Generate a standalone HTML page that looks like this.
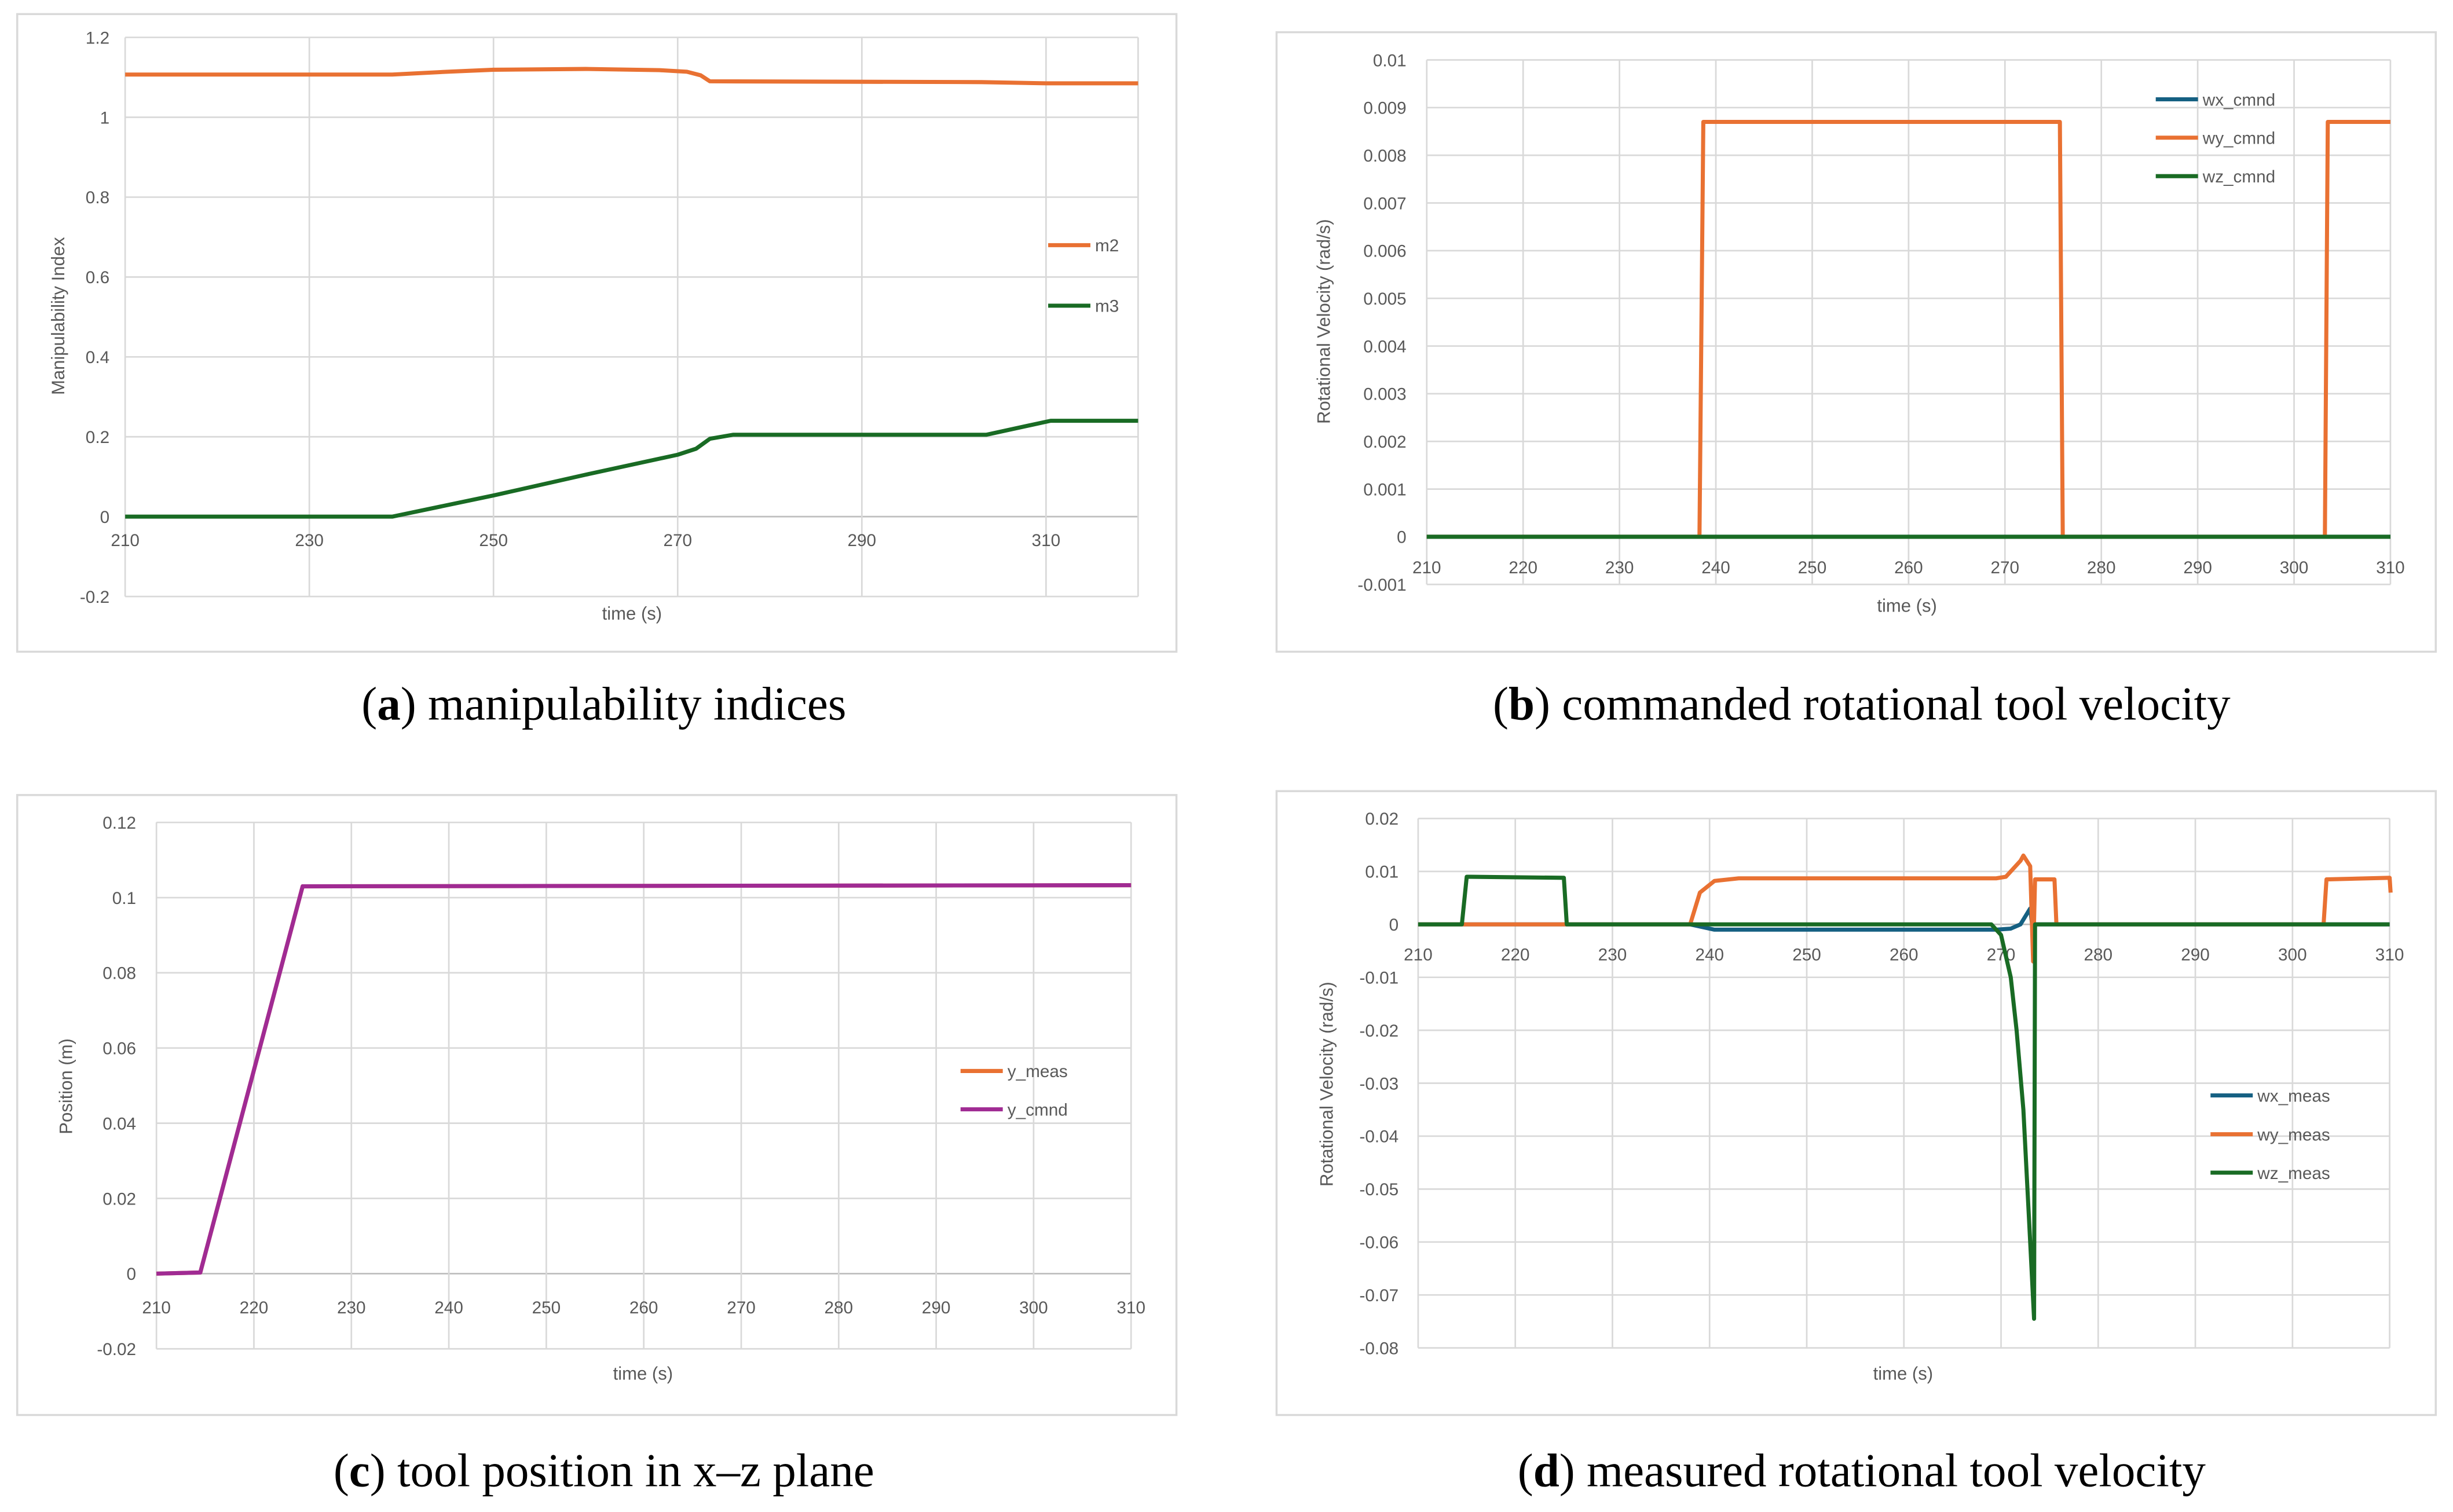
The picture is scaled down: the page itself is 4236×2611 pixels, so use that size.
<!DOCTYPE html>
<html><head><meta charset="utf-8"><style>
html,body{margin:0;padding:0;background:#fff;}
svg{display:block;}
text{font-family:"Liberation Sans",sans-serif;}
.tick{font-size:11px;fill:#595959;}
.ttl{font-size:11.5px;fill:#595959;}
.cap{font-family:"Liberation Serif",serif;font-size:30px;fill:#000;}
</style></head><body>
<svg id="fig" width="4236" height="2611" viewBox="0 0 1568 966.5" preserveAspectRatio="none" xmlns="http://www.w3.org/2000/svg"></svg>
<script>
// ---- Panel (a) data ----
const aM2T=[210,239,245,250,260,268,271,272.5,273.5,303,310,320];
const aM2V=[1.107,1.107,1.114,1.119,1.121,1.118,1.114,1.105,1.09,1.088,1.085,1.085];
const aM3T=[210,239,250,260,270,272,273.5,276,303.5,310.5,320];
const aM3V=[0,0,0.053,0.105,0.155,0.17,0.195,0.205,0.205,0.24,0.24];
const aYTicks=[1.2,1,0.8,0.6,0.4,0.2,0,-0.2];
const aXTicks=[210,230,250,270,290,310];
// ---- Panel (b) data ----
const bT=[210,238.3,238.7,275.7,276,303.2,303.5,310];
const bWx=[0,0,0,0,0,0,0,0];
const bWy=[0,0,0.0087,0.0087,0,0,0.0087,0.0087];
const bWz=[0,0,0,0,0,0,0,0];
const bYTicks=[0.01,0.009,0.008,0.007,0.006,0.005,0.004,0.003,0.002,0.001,0,-0.001];
const bXTicks=[210,220,230,240,250,260,270,280,290,300,310];
// ---- Panel (c) data ----
const cT=[210,214.5,225,310];
const cMeas=[0,0.0003,0.103,0.1033];
const cCmnd=[0,0.0003,0.103,0.1033];
const cYTicks=[0.12,0.1,0.08,0.06,0.04,0.02,0,-0.02];
const cXTicks=[210,220,230,240,250,260,270,280,290,300,310];
// ---- Panel (d) data ----
const dWxT=[210,238,240.5,269.5,271,272,273,273.2,310];
const dWxV=[0,0,-0.001,-0.001,-0.0008,0,0.003,0,0];
const dWyT=[210,238,239,240.5,243,269.5,270.5,272,272.3,273,273.3,273.5,275.5,275.7,303.2,303.5,310,310.1];
const dWyV=[0,0,0.006,0.0082,0.0087,0.0087,0.009,0.012,0.013,0.011,-0.007,0.0085,0.0085,0,0,0.0085,0.0088,0.006];
const dWzT=[210,214.5,215,225,225.3,269,270,271,271.6,272.3,273,273.4,273.5,310];
const dWzV=[0,0,0.009,0.0088,0,0,-0.002,-0.01,-0.02,-0.035,-0.06,-0.0745,0,0];
const dYTicks=[0.02,0.01,0,-0.01,-0.02,-0.03,-0.04,-0.05,-0.06,-0.07,-0.08];
const dXTicks=[210,220,230,240,250,260,270,280,290,300,310];

const NS="http://www.w3.org/2000/svg";
const fig=document.getElementById('fig');
function mk(tag,attrs,parent,txt){const e=document.createElementNS(NS,tag);for(const k in attrs)e.setAttribute(k,attrs[k]);if(txt!==undefined)e.textContent=txt;(parent||fig).appendChild(e);return e;}
const OR='#E97132',GR='#196B24',BL='#156082',PU='#A02B93';

function panel(id,cfg){
  const g=mk('g',{});
  
  
  const f=mk('rect',{x:cfg.fx0,y:cfg.fy0,width:cfg.fx1-cfg.fx0,height:cfg.fy1-cfg.fy0,fill:'#fff',stroke:'#d9d9d9','stroke-width':1.3},g);
  
  
  const X=t=>cfg.px0+(t-cfg.xmin)/(cfg.xmax-cfg.xmin)*(cfg.px1-cfg.px0);
  const Y=v=>cfg.py0+(cfg.ymax-v)/(cfg.ymax-cfg.ymin)*(cfg.py1-cfg.py0);
  cfg.yt.forEach(v=>{const l=mk('line',{x1:cfg.px0,x2:cfg.px1,y1:Y(v),y2:Y(v),stroke:v===0?'#bfbfbf':'#d9d9d9','stroke-width':1},g);
    
    
    const t=mk('text',{x:cfg.ylx,y:Y(v)+4,'text-anchor':'end',class:'tick'},g,String(v));
    
    });
  cfg.xt.forEach(v=>{const l=mk('line',{x1:X(v),x2:X(v),y1:cfg.py0,y2:cfg.py1,stroke:'#d9d9d9','stroke-width':1},g);
    
    
    const t=mk('text',{x:X(v),y:cfg.xly,'text-anchor':'middle',class:'tick'},g,String(v));
    
    });
  if(cfg.xmax>cfg.xt[cfg.xt.length-1]){const l=mk('line',{x1:cfg.px1,x2:cfg.px1,y1:cfg.py0,y2:cfg.py1,stroke:'#d9d9d9','stroke-width':1},g);
    
    }
  const yt=mk('text',{transform:`translate(${cfg.ytx},${cfg.yty}) rotate(-90)`,'text-anchor':'middle',class:'ttl'},g,cfg.ytitle);
  
  
  const xt=mk('text',{x:cfg.xtx,y:cfg.xty,'text-anchor':'middle',class:'ttl'},g,'time (s)');
  
  
  cfg.series.forEach(s=>{
    const pts=s.t.map((t,i)=>X(t).toFixed(2)+','+Y(s.v[i]).toFixed(2)).join(' ');
    const p=mk('polyline',{points:pts,fill:'none',stroke:s.c,'stroke-width':2.6,'stroke-linejoin':'round'},g);
    
    
  });
  cfg.series.forEach((s,i)=>{
    if(s.ly===undefined)return;
    const l=mk('line',{x1:cfg.lx,x2:cfg.lx+27,y1:s.ly,y2:s.ly,stroke:s.c,'stroke-width':2.6},g);
    
    
    const t=mk('text',{x:cfg.lx+30,y:s.ly+4,class:'tick'},g,s.n);
    
    
  });
  const cap=mk('text',{x:cfg.capx,y:cfg.capy,'text-anchor':'middle',class:'cap'},g);
  
  
  mk('tspan',{},cap,'(');
  mk('tspan',{'font-weight':'bold'},cap,cfg.cl);
  mk('tspan',{},cap,') '+cfg.cap);
}

panel('panel-a',{fx0:11,fx1:752,fy0:9,fy1:416.6,px0:80,px1:727.5,py0:23.9,py1:381.3,xmin:210,xmax:320,ymin:-0.2,ymax:1.2,
  yt:aYTicks,xt:aXTicks,ylx:70,xly:349,ytitle:'Manipulability Index',ytx:41,yty:202,xtx:404,xty:396,lx:670,
  series:[{n:'m2',t:aM2T,v:aM2V,c:OR,ly:156.7},{n:'m3',t:aM3T,v:aM3V,c:GR,ly:195.4}],capx:386,capy:460,cl:'a',cap:'manipulability indices'});
panel('panel-b',{fx0:816,fx1:1557,fy0:20.6,fy1:416.6,px0:912,px1:1528,py0:38.3,py1:373.6,xmin:210,xmax:310,ymin:-0.001,ymax:0.01,
  yt:bYTicks,xt:bXTicks,ylx:899,xly:366.5,ytitle:'Rotational Velocity (rad/s)',ytx:850,yty:205.5,xtx:1219,xty:391,lx:1378,
  series:[{n:'wx_cmnd',t:bT,v:bWx,c:BL,ly:63.5},{n:'wy_cmnd',t:bT,v:bWy,c:OR,ly:88},{n:'wz_cmnd',t:bT,v:bWz,c:GR,ly:112.6}],capx:1190,capy:460,cl:'b',cap:'commanded rotational tool velocity'});
panel('panel-c',{fx0:11,fx1:752,fy0:508.2,fy1:904.5,px0:100,px1:723,py0:525.7,py1:862.2,xmin:210,xmax:310,ymin:-0.02,ymax:0.12,
  yt:cYTicks,xt:cXTicks,ylx:87,xly:839.5,ytitle:'Position (m)',ytx:46,yty:694.4,xtx:411,xty:882,lx:614,
  series:[{n:'y_meas',t:cT,v:cMeas,c:OR,ly:684.6},{n:'y_cmnd',t:cT,v:cCmnd,c:PU,ly:709.1}],capx:386,capy:950,cl:'c',cap:'tool position in x–z plane'});
panel('panel-d',{fx0:816,fx1:1557,fy0:505.7,fy1:904.5,px0:906.5,px1:1527.5,py0:523.2,py1:861.6,xmin:210,xmax:310,ymin:-0.08,ymax:0.02,
  yt:dYTicks,xt:dXTicks,ylx:894,xly:614,ytitle:'Rotational Velocity (rad/s)',ytx:852,yty:693,xtx:1216.5,xty:882,lx:1413,
  series:[{n:'wx_meas',t:dWxT,v:dWxV,c:BL,ly:700.2},{n:'wy_meas',t:dWyT,v:dWyV,c:OR,ly:725},{n:'wz_meas',t:dWzT,v:dWzV,c:GR,ly:749.6}],capx:1190,capy:950,cl:'d',cap:'measured rotational tool velocity'});
</script>
</body></html>
